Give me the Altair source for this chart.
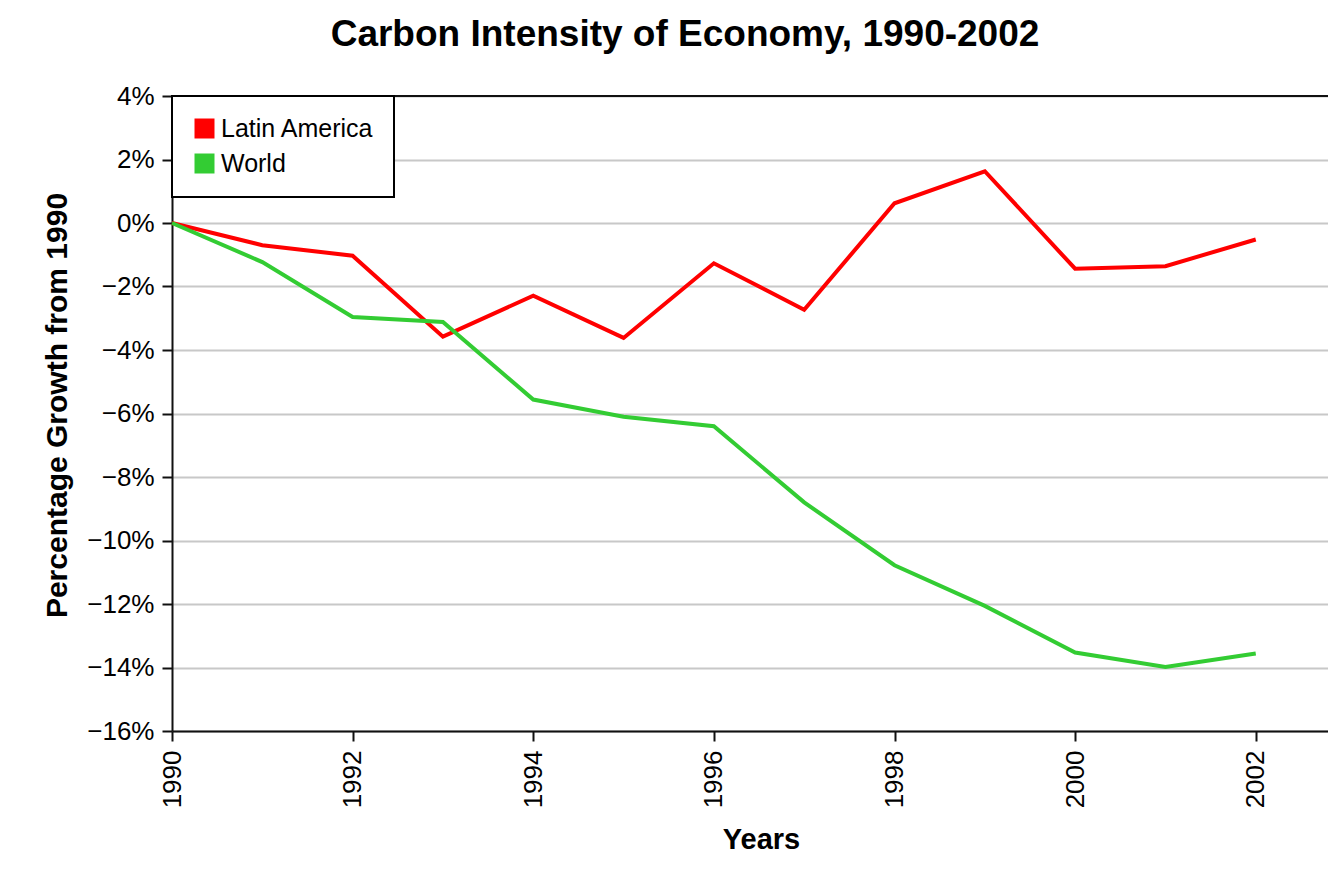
import altair as alt
import pandas as pd

years = list(range(1990, 2003))
latin_america = [0.0, -0.70, -1.03, -3.58, -2.29, -3.62, -1.27, -2.73, 0.62, 1.63, -1.44, -1.36, -0.52]
world = [0.0, -1.23, -2.96, -3.12, -5.56, -6.10, -6.40, -8.80, -10.78, -12.06, -13.53, -13.98, -13.56]
series_names = ["Latin America", "World"]
series_colors = ["#ff0000", "#33cc33"]
y_ticks = [4, 2, 0, -2, -4, -6, -8, -10, -12, -14, -16]
x_ticks = [1990, 1992, 1994, 1996, 1998, 2000, 2002]
top_edge = [4]

rows = []
for name, vals in zip(series_names, [latin_america, world]):
    for yr, v in zip(years, vals):
        rows.append({"Year": yr, "Series": name, "Key": name, "Growth": v / 100.0})
df = pd.DataFrame(rows)
edge_df = pd.DataFrame({"Growth": [v / 100.0 for v in top_edge]})

FONT = "Liberation Sans"

x_enc = alt.X(
    "Year:Q",
    scale=alt.Scale(domain=[1990, 2002.8], nice=False, zero=False),
    axis=alt.Axis(
        values=x_ticks, format="d", labelAngle=270, grid=False,
        title="Years", labelFlush=False, labelOverlap=False,
        tickSize=10, labelPadding=9, labelFontSize=26, titleFontSize=29,
        titleX=589, titleY=117, titleBaseline="alphabetic", titleAlign="center",
    ),
)
y_enc = alt.Y(
    "Growth:Q",
    scale=alt.Scale(domain=[-0.16, 0.04], nice=False, zero=False),
    axis=alt.Axis(
        values=[t / 100.0 for t in y_ticks], format=".0%", grid=True,
        title="Percentage Growth from 1990", labelFlush=False, labelOverlap=False,
        tickSize=10, labelPadding=8, labelFontSize=26, titleFontSize=30,
        titleX=-106, titleY=309, titleAngle=270, titleBaseline="alphabetic", titleAlign="center",
    ),
)

lines = alt.Chart(df).mark_line(strokeWidth=4).encode(
    x=x_enc,
    y=y_enc,
    stroke=alt.Stroke("Series:N", scale=alt.Scale(range=series_colors), legend=None),
)

legend_marks = alt.Chart(df).mark_square(size=0, filled=True).encode(
    x=alt.X("Year:Q"),
    y=alt.Y("Growth:Q"),
    fill=alt.Fill(
        "Key:N",
        scale=alt.Scale(domain=series_names, range=series_colors),
        legend=alt.Legend(
            title=None, orient="top-left", offset=0, symbolType="square",
            symbolSize=400, symbolStrokeWidth=0, symbolOpacity=1,
            labelFontSize=25, labelFont=FONT,
            labelColor="black", padding=20, rowPadding=9, labelOffset=4,
            strokeColor="black", fillColor="white",
        ),
    ),
)

top_rule = alt.Chart(edge_df).mark_rule(color="#111111", strokeWidth=2).encode(
    y=alt.Y("Growth:Q")
)

chart = alt.layer(lines, legend_marks, top_rule).properties(
    width=1156,
    height=635,
    title=alt.TitleParams(
        text="Carbon Intensity of Economy, 1990-2002", fontSize=37, fontWeight="bold",
        font=FONT, color="black", anchor="middle", dx=-65, offset=29,
    ),
    autosize=alt.AutoSizeParams(type="none"),
    padding={"left": 164, "top": 88, "right": 0, "bottom": 140},
    background="white",
).configure_view(
    strokeWidth=0
).configure_axis(
    labelFont=FONT, labelColor="black",
    titleFont=FONT, titleFontWeight="bold", titleColor="black",
    domainColor="#111111", domainWidth=2, tickColor="#111111", tickWidth=2,
    gridColor="#c8c8c8", gridWidth=2,
).configure_legend(
    strokeWidth=2
)

chart.save("out.html", embed_options={"renderer": "svg", "actions": False})
